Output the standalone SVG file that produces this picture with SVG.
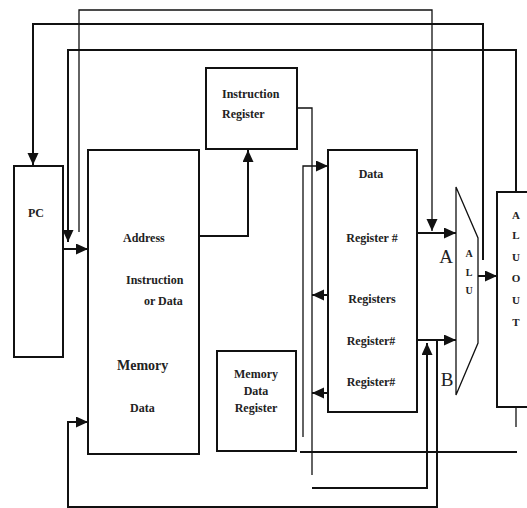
<svg xmlns="http://www.w3.org/2000/svg" width="527" height="508" viewBox="0 0 527 508">
<style>
.box{fill:#fff;stroke:#111;stroke-width:2}
.w{fill:none;stroke:#111;stroke-width:2}
.t{fill:none;stroke:#111;stroke-width:1.3}
.a{marker-end:url(#ah)}
text{font-family:"Liberation Serif","Times New Roman",serif;fill:#222;font-weight:bold;font-size:12px}
.m{text-anchor:middle}
.big{font-weight:normal;font-size:19px}
.s{font-size:10px;text-anchor:middle}
.o{font-size:11px;text-anchor:middle}
</style>
<defs>
<marker id="ah" markerUnits="userSpaceOnUse" markerWidth="13" markerHeight="12" refX="12" refY="5.5" orient="auto">
<path d="M0,0 L12,5.5 L0,11 z" fill="#111"/>
</marker>
</defs>
<rect width="527" height="508" fill="#fff"/>
<g id="connectors">
<path class="t a" d="M79 232 V10 H432 V231"/>
<path class="w a" d="M483 260 V24 H33 V165"/>
<path class="w a" d="M516 192 V50 H68 V242"/>
<path class="w a" d="M63 249 H88"/>
<path class="w a" d="M199 236 H248 V150"/>
<path class="t" d="M297 108 H312 V475"/>
<path class="t a" d="M303 437 V166 H328"/>
<path class="w a" d="M328 295 H312"/>
<path class="w a" d="M328 393 H312"/>
<path class="w a" d="M417 233 H456"/>
<path class="w a" d="M417 340 H456"/>
<path class="w a" d="M312 488 H427 V343"/>
<path class="w a" d="M437 340 V507 H68 V422 H88"/>
<path class="w a" d="M478 276 H497"/>
<path class="w" d="M300 452 H517"/>
<path class="t" d="M516 407 V427"/>
</g>
<g id="pc">
<rect class="box" x="14" y="166" width="49" height="191"/>
<text x="36" y="217" class="m">PC</text>
</g>
<g id="memory">
<rect class="box" x="88" y="150" width="111" height="304"/>
<text x="123" y="242">Address</text>
<text x="126" y="284">Instruction</text>
<text x="144" y="305">or Data</text>
<text x="117" y="370" style="font-size:14px">Memory</text>
<text x="130" y="412">Data</text>
</g>
<g id="instruction-register">
<rect class="box" x="206" y="68" width="91" height="81"/>
<text x="222" y="98">Instruction</text>
<text x="222" y="118">Register</text>
</g>
<g id="memory-data-register">
<rect class="box" x="217" y="351" width="79" height="100"/>
<text x="256" y="378" class="m">Memory</text>
<text x="256" y="395" class="m">Data</text>
<text x="256" y="412" class="m">Register</text>
</g>
<g id="registers">
<rect class="box" x="328" y="150" width="89" height="262"/>
<text x="371" y="178" class="m">Data</text>
<text x="372" y="242" class="m">Register #</text>
<text x="372" y="303" class="m">Registers</text>
<text x="371" y="345" class="m">Register#</text>
<text x="371" y="386" class="m">Register#</text>
</g>
<g id="alu">
<path class="t" d="M456 187 L478 238 V343 L456 395 Z" fill="#fff"/>
<text x="469" y="257" class="s">A</text>
<text x="469" y="276" class="s">L</text>
<text x="469" y="294" class="s">U</text>
<text x="446" y="263" class="big m">A</text>
<text x="447" y="386" class="big m">B</text>
</g>
<g id="alu-out">
<rect class="box" x="497" y="192" width="40" height="215"/>
<text x="516" y="219" class="o">A</text>
<text x="516" y="239" class="o">L</text>
<text x="516" y="261" class="o">U</text>
<text x="516" y="282" class="o">O</text>
<text x="516" y="304" class="o">U</text>
<text x="516" y="326" class="o">T</text>
</g>
</svg>
